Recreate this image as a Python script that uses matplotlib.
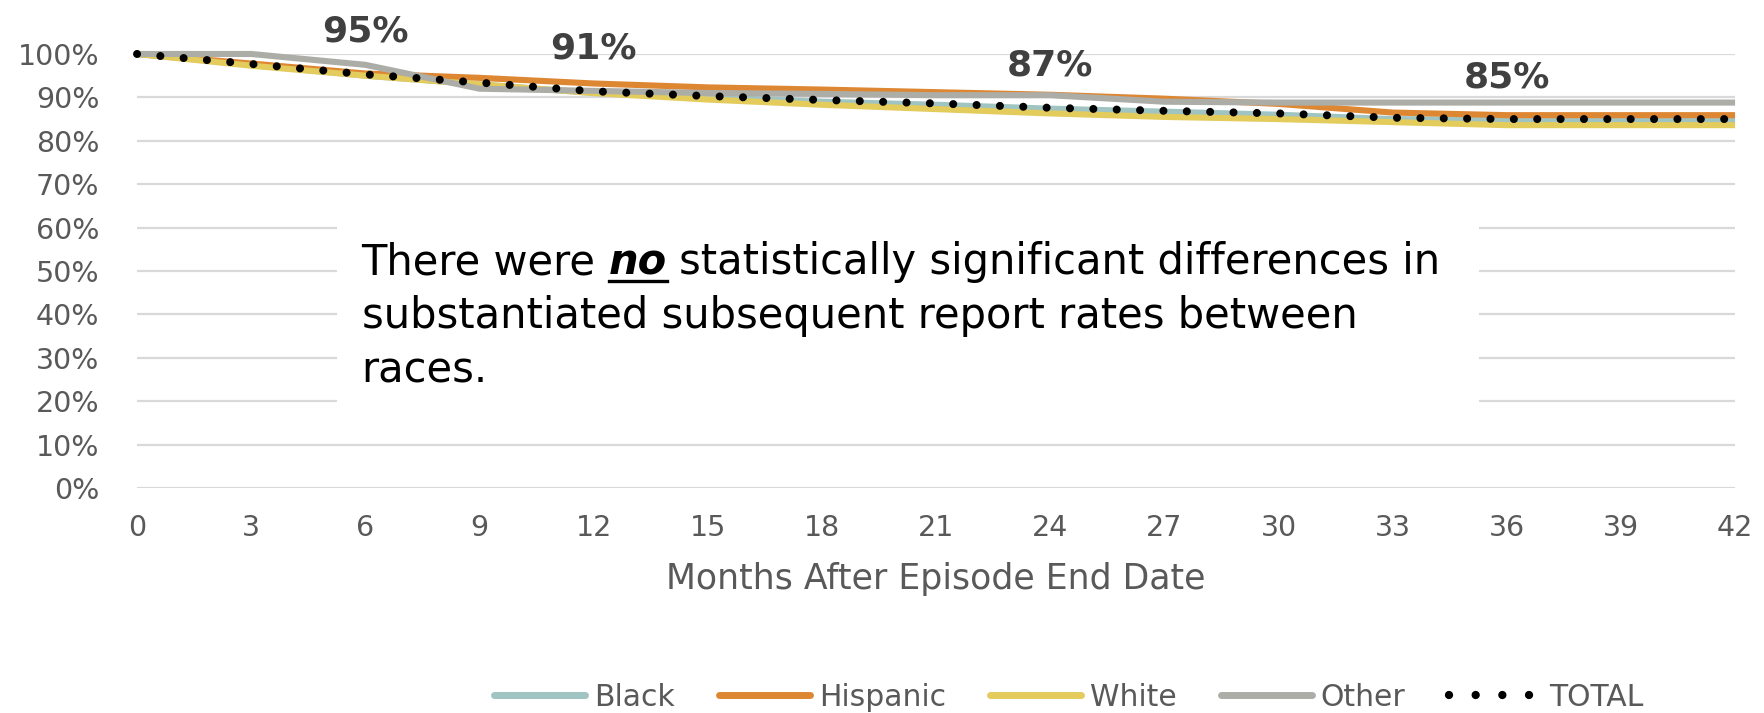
import matplotlib
matplotlib.use("Agg")
import matplotlib.pyplot as plt
from matplotlib.patches import Rectangle
from matplotlib.lines import Line2D
from matplotlib.ticker import FuncFormatter

plt.rcParams['font.family'] = ['DejaVu Sans']

# data (percent still without a substantiated subsequent report)
months = [0, 3, 6, 9, 12, 15, 18, 21, 24, 27, 30, 33, 36, 39, 42]
black = [100, 97.5, 95.0, 93.0, 91.0, 90.0, 89.0, 88.3, 87.4, 86.7, 86.0, 85.0, 84.8, 84.8, 84.8]
hispanic = [100, 97.8, 95.5, 94.5, 93.2, 92.3, 91.8, 91.2, 90.6, 89.7, 88.5, 86.5, 85.9, 85.9, 85.9]
white = [100, 97.3, 95.0, 93.0, 91.0, 89.5, 88.3, 87.3, 86.3, 85.5, 85.0, 84.3, 83.6, 83.6, 83.6]
other = [100, 100, 97.5, 92.0, 91.5, 91.0, 90.8, 90.5, 90.5, 89.0, 88.8, 88.8, 88.8, 88.8, 88.8]
total = [100, 97.7, 95.3, 93.4, 91.4, 90.3, 89.4, 88.6, 87.6, 86.9, 86.3, 85.3, 85.0, 85.0, 85.0]

series_names = ["Black", "Hispanic", "White", "Other"]
series_colors = ["#A0C4C2", "#DD8733", "#E3CB5C", "#ADADA8"]

callout_months = [6, 12, 24, 36]
callout_labels = ["95%", "91%", "87%", "85%"]
callout_y = [105.2, 101.3, 97.3, 94.5]

note_lines = ["There were ", "no", "statistically significant differences in",
              "substantiated subsequent report rates between", "races."]

fig = plt.figure(figsize=(17.64, 7.13), dpi=100)
ax = fig.add_axes([0.0777, 0.3156, 0.9059, 0.6087])

for vals, name, col in zip([black, hispanic, white, other], series_names, series_colors):
    ax.plot(months, vals, color=col, lw=4.4, label=name, clip_on=False,
            solid_capstyle='butt', zorder=3)
ax.plot(months, total, color='black', lw=5.8, linestyle=(0, (0.001, 2.9)),
        dash_capstyle='round', label="TOTAL", clip_on=False, zorder=4)

ax.set_xlim(0, 42)
ax.set_ylim(0, 100)
ax.set_xticks(range(0, 43, 3))
ax.set_yticks(range(0, 101, 10))
ax.yaxis.set_major_formatter(FuncFormatter(lambda v, p: "%d%%" % v))
ax.grid(axis='y', color='#D9D9D9', lw=1.6)
ax.set_axisbelow(True)
for s in ax.spines.values():
    s.set_visible(False)
ax.tick_params(length=0, labelsize=20.5, labelcolor='#595959')
ax.tick_params(axis='y', pad=27)
ax.tick_params(axis='x', pad=19)
ax.set_xlabel("Months After Episode End Date", fontsize=25, color='#595959', labelpad=14)

for m, lab, yy in zip(callout_months, callout_labels, callout_y):
    ax.text(m, yy, lab, ha='center', va='center', fontsize=26, fontweight='bold',
            color='#404040', clip_on=False)

# white note box over gridlines
ax.add_patch(Rectangle((5.26, 13), 30.0, 54, facecolor='white', edgecolor='none', zorder=2))
fs = 30
x0 = 5.9
t1 = ax.text(x0, 49.3, note_lines[0], fontsize=fs, va='baseline', ha='left', zorder=5)
t2 = ax.annotate(note_lines[1], xy=(1, 49.3), xycoords=(t1, 'data'), xytext=(0, 0),
                 textcoords='offset pixels', fontsize=fs, va='baseline', ha='left',
                 fontweight='bold', fontstyle='italic', zorder=5)
t3 = ax.annotate(note_lines[2], xy=(1, 49.3), xycoords=(t2, 'data'), xytext=(12, 0),
                 textcoords='offset pixels', fontsize=fs, va='baseline', ha='left', zorder=5)
ax.text(x0, 36.9, note_lines[3], fontsize=fs, va='baseline', ha='left', zorder=5)
ax.text(x0, 24.2, note_lines[4], fontsize=fs, va='baseline', ha='left', zorder=5)

fig.canvas.draw()
bb = t2.get_window_extent().transformed(fig.transFigure.inverted())
base = ax.transData.transform((0, 49.3))[1]
uy = fig.transFigure.inverted().transform((0, base - 7))[1]
fig.add_artist(Line2D([bb.x0, bb.x1], [uy, uy], color='black', lw=2.4))

handles = [Line2D([], [], color=c, lw=5, solid_capstyle='round') for c in series_colors]
handles.append(Line2D([], [], color='black', lw=6, linestyle=(0, (0.001, 3.2)),
                      dash_capstyle='round'))
fig.legend(handles, series_names + ["TOTAL"], loc='center', ncol=5,
           bbox_to_anchor=(0.606, 1 - 697 / 713), frameon=False, fontsize=21.5,
           handlelength=3.05, handletextpad=0.3, columnspacing=1.47,
           labelcolor='#595959')

fig.savefig("out.png", dpi=100)
